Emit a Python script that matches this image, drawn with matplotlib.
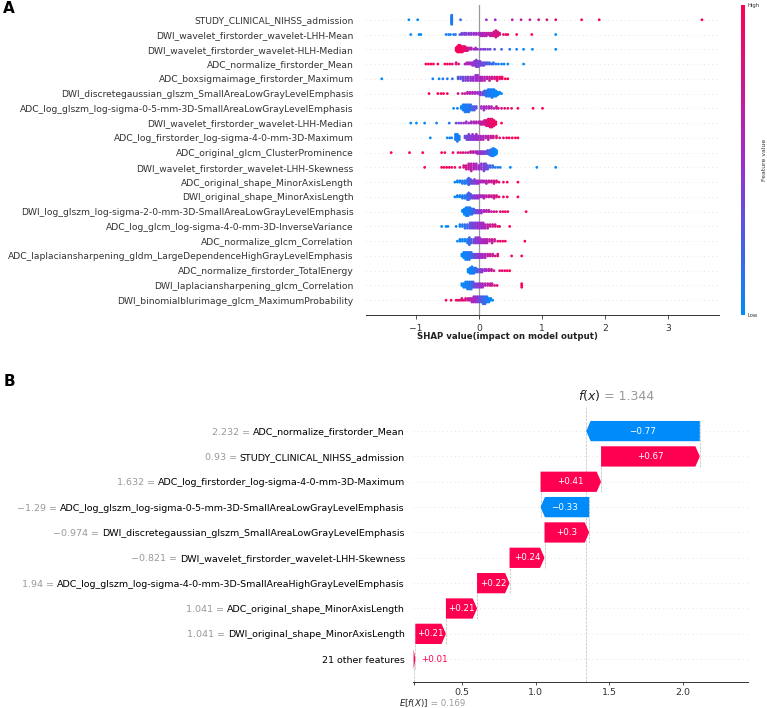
import numpy as np
import matplotlib
matplotlib.use("Agg")
import matplotlib.pyplot as plt
from matplotlib.colors import LinearSegmentedColormap, Normalize
from matplotlib.patches import FancyArrow
import matplotlib.transforms as mtrans
import matplotlib.cm as cm

# ---------------- panel A: SHAP summary (top -> bottom) ----------------
summary_features = [
    "STUDY_CLINICAL_NIHSS_admission",
    "DWI_wavelet_firstorder_wavelet-LHH-Mean",
    "DWI_wavelet_firstorder_wavelet-HLH-Median",
    "ADC_normalize_firstorder_Mean",
    "ADC_boxsigmaimage_firstorder_Maximum",
    "DWI_discretegaussian_glszm_SmallAreaLowGrayLevelEmphasis",
    "ADC_log_glszm_log-sigma-0-5-mm-3D-SmallAreaLowGrayLevelEmphasis",
    "DWI_wavelet_firstorder_wavelet-LHH-Median",
    "ADC_log_firstorder_log-sigma-4-0-mm-3D-Maximum",
    "ADC_original_glcm_ClusterProminence",
    "DWI_wavelet_firstorder_wavelet-LHH-Skewness",
    "ADC_original_shape_MinorAxisLength",
    "DWI_original_shape_MinorAxisLength",
    "DWI_log_glszm_log-sigma-2-0-mm-3D-SmallAreaLowGrayLevelEmphasis",
    "ADC_log_glcm_log-sigma-4-0-mm-3D-InverseVariance",
    "ADC_normalize_glcm_Correlation",
    "ADC_laplaciansharpening_gldm_LargeDependenceHighGrayLevelEmphasis",
    "ADC_normalize_firstorder_TotalEnergy",
    "DWI_laplaciansharpening_glcm_Correlation",
    "DWI_binomialblurimage_glcm_MaximumProbability",
]

# each dot column: (shap value, feature value 0=low..1=high, number of dots)
summary_points = [
    [(-1.11, 0.0, 1), (-0.97, 0.0, 1), (-0.43, 0.08, 13), (-0.29, 0.15, 1), (0.12, 0.45, 1), (0.26, 0.5, 1),
     (0.53, 0.62, 1), (0.67, 0.66, 1), (0.81, 0.7, 1), (0.95, 0.75, 1), (1.08, 0.8, 1), (1.22, 0.86, 1),
     (1.63, 0.95, 1), (1.91, 0.97, 1), (3.54, 1.0, 1)],
    [(-1.08, 0.0, 1), (-0.95, 0.0, 1), (-0.92, 0.02, 1), (-0.52, 0.05, 1), (-0.48, 0.05, 1), (-0.45, 0.08, 1),
     (-0.4, 0.1, 1), (-0.37, 0.12, 1), (-0.3, 0.3, 1), (-0.27, 0.35, 2), (-0.23, 0.4, 2), (-0.2, 0.4, 2),
     (-0.16, 0.42, 2), (-0.12, 0.45, 2), (-0.08, 0.48, 2), (-0.04, 0.5, 2), (0.0, 0.55, 2), (0.03, 0.55, 3),
     (0.06, 0.6, 3), (0.09, 0.6, 3), (0.12, 0.62, 3), (0.15, 0.66, 2), (0.18, 0.7, 3), (0.21, 0.72, 3),
     (0.24, 0.75, 4), (0.27, 0.78, 6), (0.3, 0.8, 4), (0.33, 0.85, 2), (0.39, 0.9, 1), (0.43, 0.92, 1),
     (0.46, 0.95, 1), (0.6, 0.97, 1), (0.84, 1.0, 1), (1.22, 0.0, 1)],
    [(-0.36, 0.95, 3), (-0.34, 1.0, 5), (-0.32, 0.95, 6), (-0.3, 1.0, 6), (-0.28, 0.95, 5), (-0.26, 0.9, 5),
     (-0.24, 0.92, 4), (-0.22, 0.88, 4), (-0.2, 0.85, 3), (-0.18, 0.8, 3), (-0.15, 0.7, 2), (-0.12, 0.6, 2),
     (-0.08, 0.55, 1), (-0.05, 0.5, 2), (-0.02, 0.45, 1), (0.03, 0.45, 1), (0.07, 0.4, 1), (0.1, 0.4, 1),
     (0.14, 0.35, 1), (0.18, 0.35, 1), (0.25, 0.3, 1), (0.36, 0.2, 1), (0.49, 0.1, 1), (0.6, 0.05, 1),
     (0.71, 0.0, 1), (0.85, 0.0, 1), (1.22, 0.0, 1)],
    [(-0.84, 1.0, 1), (-0.8, 1.0, 1), (-0.76, 0.95, 1), (-0.72, 1.0, 1), (-0.65, 0.95, 1), (-0.54, 0.95, 1),
     (-0.5, 0.9, 1), (-0.46, 0.92, 1), (-0.42, 0.9, 1), (-0.36, 0.85, 2), (-0.32, 0.8, 1), (-0.22, 0.6, 1),
     (-0.19, 0.62, 2), (-0.16, 0.55, 2), (-0.13, 0.55, 2), (-0.1, 0.5, 3), (-0.07, 0.45, 4), (-0.04, 0.42, 6),
     (-0.01, 0.4, 5), (0.02, 0.38, 4), (0.05, 0.35, 3), (0.08, 0.3, 3), (0.11, 0.3, 2), (0.14, 0.25, 2),
     (0.17, 0.2, 2), (0.2, 0.2, 1), (0.23, 0.15, 2), (0.27, 0.1, 1), (0.31, 0.1, 1), (0.36, 0.05, 1),
     (0.4, 0.05, 1), (0.46, 0.02, 1), (0.71, 0.0, 1)],
    [(-1.54, 0.0, 1), (-0.73, 0.05, 1), (-0.63, 0.05, 1), (-0.57, 0.1, 1), (-0.5, 0.1, 1), (-0.42, 0.15, 1),
     (-0.33, 0.25, 2), (-0.29, 0.3, 2), (-0.25, 0.35, 3), (-0.21, 0.4, 3), (-0.17, 0.42, 3), (-0.13, 0.45, 3),
     (-0.09, 0.5, 3), (-0.05, 0.5, 4), (-0.02, 0.52, 4), (0.02, 0.55, 3), (0.05, 0.6, 3), (0.09, 0.62, 3),
     (0.13, 0.65, 2), (0.17, 0.7, 3), (0.21, 0.75, 2), (0.25, 0.8, 2), (0.29, 0.85, 3), (0.33, 0.9, 2),
     (0.37, 0.95, 2), (0.42, 1.0, 1), (0.46, 1.0, 1)],
    [(-0.79, 1.0, 1), (-0.65, 1.0, 1), (-0.6, 0.95, 1), (-0.56, 1.0, 1), (-0.5, 0.95, 1), (-0.33, 0.85, 1),
     (-0.26, 0.75, 1), (-0.22, 0.7, 1), (-0.18, 0.65, 2), (-0.14, 0.6, 2), (-0.1, 0.6, 2), (-0.06, 0.55, 2),
     (-0.02, 0.5, 2), (0.02, 0.45, 3), (0.06, 0.35, 3), (0.09, 0.2, 4), (0.12, 0.15, 5), (0.15, 0.1, 6),
     (0.18, 0.08, 6), (0.21, 0.05, 7), (0.24, 0.05, 6), (0.27, 0.03, 5), (0.3, 0.02, 3), (0.33, 0.0, 2),
     (0.36, 0.0, 1)],
    [(-0.4, 0.0, 1), (-0.34, 0.05, 1), (-0.28, 0.05, 2), (-0.25, 0.05, 4), (-0.22, 0.08, 5), (-0.19, 0.1, 5),
     (-0.16, 0.1, 5), (-0.13, 0.15, 4), (-0.1, 0.2, 3), (-0.07, 0.25, 3), (-0.04, 0.3, 2), (0.04, 0.5, 2),
     (0.08, 0.55, 3), (0.12, 0.55, 2), (0.16, 0.6, 2), (0.2, 0.6, 2), (0.24, 0.65, 1), (0.28, 0.7, 2),
     (0.31, 0.75, 1), (0.36, 0.8, 1), (0.41, 0.85, 1), (0.46, 0.9, 1), (0.52, 0.92, 1), (0.62, 0.95, 1),
     (0.86, 1.0, 1), (1.01, 1.0, 1)],
    [(-1.08, 0.0, 1), (-0.99, 0.0, 1), (-0.86, 0.02, 1), (-0.67, 0.05, 1), (-0.47, 0.1, 1), (-0.36, 0.35, 1),
     (-0.32, 0.4, 1), (-0.28, 0.45, 1), (-0.24, 0.45, 1), (-0.2, 0.5, 2), (-0.16, 0.5, 1), (-0.12, 0.55, 2),
     (-0.08, 0.55, 2), (-0.04, 0.6, 2), (0.0, 0.62, 2), (0.03, 0.65, 3), (0.06, 0.7, 3), (0.09, 0.75, 4),
     (0.12, 0.8, 5), (0.15, 0.85, 6), (0.18, 0.88, 7), (0.21, 0.9, 7), (0.24, 0.92, 5), (0.27, 0.95, 3),
     (0.36, 1.0, 1)],
    [(-0.77, 0.0, 1), (-0.5, 0.0, 1), (-0.46, 0.05, 1), (-0.43, 0.05, 1), (-0.37, 0.05, 4), (-0.34, 0.08, 5),
     (-0.31, 0.1, 3), (-0.22, 0.3, 2), (-0.19, 0.35, 3), (-0.16, 0.4, 4), (-0.13, 0.42, 3), (-0.1, 0.45, 4),
     (-0.07, 0.48, 3), (-0.04, 0.5, 4), (-0.01, 0.52, 3), (0.03, 0.55, 3), (0.07, 0.6, 3), (0.11, 0.62, 2),
     (0.15, 0.65, 3), (0.19, 0.7, 2), (0.23, 0.75, 2), (0.28, 0.8, 2), (0.33, 0.85, 1), (0.39, 0.9, 1),
     (0.44, 0.92, 1), (0.48, 0.95, 1), (0.53, 0.97, 1), (0.58, 1.0, 1), (0.62, 1.0, 1)],
    [(-1.39, 1.0, 1), (-1.1, 1.0, 1), (-0.89, 1.0, 1), (-0.59, 0.95, 1), (-0.54, 0.95, 1), (-0.41, 0.9, 1),
     (-0.33, 0.85, 1), (-0.29, 0.85, 1), (-0.25, 0.8, 1), (-0.21, 0.75, 1), (-0.17, 0.72, 1), (-0.13, 0.7, 2),
     (-0.09, 0.65, 2), (-0.05, 0.6, 2), (-0.02, 0.55, 3), (0.02, 0.5, 3), (0.05, 0.45, 3), (0.08, 0.4, 3),
     (0.11, 0.35, 3), (0.14, 0.3, 4), (0.17, 0.2, 5), (0.2, 0.1, 7), (0.23, 0.05, 8), (0.26, 0.02, 6),
     (0.28, 0.0, 4)],
    [(-0.86, 1.0, 1), (-0.59, 1.0, 1), (-0.55, 0.95, 1), (-0.51, 1.0, 1), (-0.47, 0.95, 1), (-0.43, 0.9, 1),
     (-0.38, 0.9, 1), (-0.3, 0.85, 1), (-0.24, 0.8, 2), (-0.2, 0.75, 3), (-0.16, 0.7, 4), (-0.12, 0.65, 5),
     (-0.08, 0.6, 4), (-0.04, 0.55, 4), (0.0, 0.5, 3), (0.04, 0.45, 4), (0.08, 0.4, 5), (0.11, 0.35, 4),
     (0.14, 0.3, 3), (0.18, 0.25, 2), (0.22, 0.15, 2), (0.26, 0.1, 1), (0.3, 0.08, 1), (0.34, 0.05, 1),
     (0.5, 0.02, 1), (0.92, 0.0, 1), (1.22, 0.0, 1)],
    [(-0.38, 0.0, 1), (-0.34, 0.05, 2), (-0.3, 0.05, 2), (-0.26, 0.1, 3), (-0.22, 0.1, 3), (-0.18, 0.15, 4),
     (-0.16, 0.2, 6), (-0.13, 0.3, 4), (-0.1, 0.35, 3), (-0.07, 0.4, 4), (-0.04, 0.45, 3), (-0.01, 0.5, 3),
     (0.02, 0.55, 2), (0.05, 0.55, 2), (0.08, 0.6, 2), (0.12, 0.65, 3), (0.16, 0.7, 2), (0.2, 0.72, 2),
     (0.24, 0.75, 3), (0.28, 0.8, 2), (0.32, 0.85, 1), (0.39, 0.9, 1), (0.45, 0.95, 1), (0.62, 1.0, 1)],
    [(-0.38, 0.0, 1), (-0.34, 0.05, 2), (-0.3, 0.05, 2), (-0.26, 0.1, 3), (-0.22, 0.1, 3), (-0.18, 0.15, 5),
     (-0.16, 0.2, 6), (-0.13, 0.3, 4), (-0.1, 0.35, 3), (-0.07, 0.4, 3), (-0.04, 0.45, 3), (-0.01, 0.5, 3),
     (0.02, 0.55, 2), (0.05, 0.55, 2), (0.08, 0.6, 3), (0.12, 0.65, 2), (0.16, 0.7, 2), (0.2, 0.72, 2),
     (0.24, 0.75, 3), (0.28, 0.8, 2), (0.32, 0.85, 1), (0.39, 0.9, 1), (0.45, 0.95, 1), (0.62, 1.0, 1)],
    [(-0.26, 0.0, 2), (-0.23, 0.02, 5), (-0.2, 0.05, 7), (-0.17, 0.05, 7), (-0.14, 0.1, 6), (-0.11, 0.15, 5),
     (-0.08, 0.2, 4), (-0.05, 0.3, 3), (-0.02, 0.35, 3), (0.01, 0.45, 3), (0.04, 0.5, 3), (0.08, 0.55, 2),
     (0.12, 0.6, 2), (0.16, 0.65, 2), (0.2, 0.7, 1), (0.24, 0.75, 1), (0.28, 0.8, 1), (0.34, 0.85, 1),
     (0.38, 0.9, 1), (0.42, 0.92, 1), (0.46, 0.95, 1), (0.75, 1.0, 1)],
    [(-0.59, 0.0, 1), (-0.52, 0.0, 1), (-0.49, 0.02, 1), (-0.36, 0.05, 1), (-0.3, 0.05, 2), (-0.26, 0.1, 2),
     (-0.22, 0.15, 3), (-0.18, 0.2, 3), (-0.14, 0.3, 4), (-0.11, 0.35, 4), (-0.08, 0.4, 4), (-0.05, 0.42, 4),
     (-0.02, 0.45, 4), (0.01, 0.5, 4), (0.04, 0.5, 4), (0.07, 0.55, 4), (0.1, 0.6, 3), (0.14, 0.65, 3),
     (0.18, 0.7, 2), (0.22, 0.75, 2), (0.26, 0.8, 2), (0.3, 0.85, 1), (0.33, 0.9, 1), (0.49, 1.0, 1)],
    [(-0.34, 0.0, 1), (-0.3, 0.02, 2), (-0.26, 0.05, 2), (-0.22, 0.05, 2), (-0.18, 0.1, 3), (-0.15, 0.15, 5),
     (-0.12, 0.25, 3), (-0.08, 0.35, 3), (-0.05, 0.4, 4), (-0.02, 0.45, 4), (0.01, 0.5, 4), (0.04, 0.52, 3),
     (0.07, 0.55, 3), (0.1, 0.6, 3), (0.13, 0.62, 3), (0.17, 0.65, 2), (0.21, 0.7, 3), (0.25, 0.75, 2),
     (0.3, 0.85, 1), (0.34, 0.9, 1), (0.38, 0.92, 1), (0.42, 0.95, 1), (0.73, 1.0, 1)],
    [(-0.27, 0.0, 2), (-0.24, 0.02, 4), (-0.21, 0.05, 5), (-0.18, 0.08, 5), (-0.15, 0.1, 5), (-0.12, 0.15, 4),
     (-0.09, 0.25, 3), (-0.06, 0.35, 3), (-0.03, 0.4, 3), (0.0, 0.45, 3), (0.03, 0.5, 3), (0.06, 0.55, 3),
     (0.1, 0.6, 3), (0.14, 0.65, 2), (0.18, 0.7, 2), (0.22, 0.75, 2), (0.26, 0.8, 1), (0.3, 0.85, 2),
     (0.52, 0.95, 1), (0.68, 1.0, 1)],
    [(-0.17, 0.0, 3), (-0.14, 0.02, 5), (-0.11, 0.05, 6), (-0.08, 0.1, 5), (-0.05, 0.15, 4), (-0.02, 0.25, 3),
     (0.02, 0.35, 3), (0.05, 0.45, 3), (0.09, 0.5, 2), (0.12, 0.55, 2), (0.16, 0.65, 2), (0.2, 0.7, 2),
     (0.24, 0.75, 1), (0.33, 0.85, 1), (0.37, 0.9, 1), (0.41, 0.92, 1), (0.45, 0.95, 1), (0.49, 1.0, 1)],
    [(-0.27, 0.0, 2), (-0.24, 0.02, 3), (-0.21, 0.05, 4), (-0.18, 0.08, 5), (-0.15, 0.1, 5), (-0.12, 0.15, 5),
     (-0.09, 0.25, 4), (-0.06, 0.35, 3), (-0.03, 0.4, 3), (0.0, 0.45, 3), (0.03, 0.5, 3), (0.06, 0.55, 3),
     (0.1, 0.6, 2), (0.14, 0.65, 2), (0.18, 0.7, 2), (0.21, 0.75, 2), (0.25, 0.8, 1), (0.29, 0.85, 1),
     (0.68, 1.0, 3)],
    [(-0.52, 1.0, 1), (-0.44, 1.0, 1), (-0.36, 0.95, 1), (-0.33, 0.9, 1), (-0.3, 0.9, 1), (-0.27, 0.85, 2),
     (-0.24, 0.8, 1), (-0.21, 0.8, 2), (-0.17, 0.7, 2), (-0.14, 0.65, 2), (-0.11, 0.6, 3), (-0.08, 0.55, 4),
     (-0.05, 0.5, 4), (-0.02, 0.45, 4), (0.01, 0.35, 4), (0.04, 0.25, 4), (0.07, 0.2, 5), (0.1, 0.15, 5),
     (0.13, 0.1, 4), (0.16, 0.05, 3), (0.19, 0.02, 2), (0.22, 0.0, 1)],
]

# ---------------- panel B: waterfall (top -> bottom) ----------------
wf_features = [
    "ADC_normalize_firstorder_Mean",
    "STUDY_CLINICAL_NIHSS_admission",
    "ADC_log_firstorder_log-sigma-4-0-mm-3D-Maximum",
    "ADC_log_glszm_log-sigma-0-5-mm-3D-SmallAreaLowGrayLevelEmphasis",
    "DWI_discretegaussian_glszm_SmallAreaLowGrayLevelEmphasis",
    "DWI_wavelet_firstorder_wavelet-LHH-Skewness",
    "ADC_log_glszm_log-sigma-4-0-mm-3D-SmallAreaHighGrayLevelEmphasis",
    "ADC_original_shape_MinorAxisLength",
    "DWI_original_shape_MinorAxisLength",
    "21 other features",
]
wf_feature_values = ["2.232", "0.93", "1.632", "\u22121.29", "\u22120.974", "\u22120.821", "1.94",
                     "1.041", "1.041", ""]
wf_shap = [-0.773, 0.672, 0.412, -0.331, 0.304, 0.238, 0.221, 0.212, 0.208, 0.012]
base_value = 0.169
fx_value = 1.344

RED = "#ff0051"
BLUE = "#008bfb"
shap_cmap = LinearSegmentedColormap.from_list("shap_rb", [BLUE, "#9e2dcc", RED])

W, H = 767, 708


def swarm_offsets(vals, cols, row_height=0.4, nbins=100):
    # shap-like stacking of dots that fall into the same bin
    n = len(vals)
    quant = np.round(nbins * (vals - vals.min()) / (vals.max() - vals.min() + 1e-8))
    inds = np.lexsort((cols, quant))
    layer = 0
    last_bin = -1
    ys = np.zeros(n)
    for ind in inds:
        if quant[ind] != last_bin:
            layer = 0
        ys[ind] = np.ceil(layer / 2) * ((layer % 2) * 2 - 1)
        layer += 1
        last_bin = quant[ind]
    ys *= 0.9 * (row_height / np.max(ys + 1))
    return ys


def fmt_shap(v):
    s = "%+0.2f" % v
    s = s.rstrip("0").rstrip(".") if "." in s else s
    return s.replace("-", "\u2212")


fig = plt.figure(figsize=(W / 100, H / 100), dpi=100)

# ---------------- A ----------------
axA = fig.add_axes([366 / W, 1 - 315 / H, (719 - 366) / W, 310 / H])
n = len(summary_features)
for i, pts in enumerate(summary_points):
    y = n - 1 - i
    vals = np.repeat([p[0] for p in pts], [p[2] for p in pts]).astype(float)
    cols = np.repeat([p[1] for p in pts], [p[2] for p in pts]).astype(float)
    offs = swarm_offsets(vals, cols)
    axA.axhline(y, color="#cccccc", lw=0.5, dashes=(1, 5), zorder=-1)
    axA.scatter(vals, y + offs, c=cols, cmap=shap_cmap, vmin=0, vmax=1, s=4, linewidths=0, zorder=3)

axA.axvline(0, color="#999999", lw=0.9, zorder=-1)
axA.set_xlim(-1.79, 3.81)
axA.set_ylim(-1, n)
axA.set_yticks(range(n))
axA.set_yticklabels(summary_features[::-1], fontsize=6.6, color="#333333")
axA.tick_params(axis="y", length=0, pad=9)
axA.set_xticks([-1, 0, 1, 2, 3])
axA.tick_params(axis="x", labelsize=6.6, colors="#333333", length=3, width=0.6)
for s in ["top", "right", "left"]:
    axA.spines[s].set_visible(False)
axA.spines["bottom"].set_color("#333333")
axA.spines["bottom"].set_linewidth(0.7)
axA.set_xlabel("SHAP value(impact on model output)", fontsize=6.2, fontweight="bold", color="#222222")
axA.xaxis.set_label_coords(0.40, -0.055)

# colour bar
cax = fig.add_axes([741 / W, 1 - 315 / H, 4 / W, 310 / H])
cb = fig.colorbar(cm.ScalarMappable(norm=Normalize(0, 1), cmap=shap_cmap), cax=cax, ticks=[0, 1])
cb.set_ticklabels(["Low", "High"])
cb.ax.tick_params(labelsize=3.8, length=0, pad=1.5, colors="#333333")
cb.outline.set_visible(False)
cb.set_label("Feature value", fontsize=4.4, labelpad=2, color="#333333")

# ---------------- B ----------------
axB = fig.add_axes([413 / W, 1 - 682 / H, (748 - 413) / W, 275 / H])
m = len(wf_features)
axB.set_xlim(0.165, 2.445)
axB.set_ylim(-0.9, m - 0.05)

for i in range(m):
    axB.axhline(i, color="#cccccc", lw=0.5, dashes=(1, 5), zorder=-1)

bar_w = 0.8
hl = 0.03
loc = fx_value
for i, v in enumerate(wf_shap):
    y = m - 1 - i
    loc -= v
    dist = abs(v)
    head = min(dist, hl)
    shaft = max(dist - hl, 1e-6)
    if v >= 0:
        arr = FancyArrow(loc, y, shaft, 0, width=bar_w, head_width=bar_w, head_length=head,
                         length_includes_head=False, color=RED, lw=0)
        left = loc
    else:
        arr = FancyArrow(loc, y, -shaft, 0, width=bar_w, head_width=bar_w, head_length=head,
                         length_includes_head=False, color=BLUE, lw=0)
        left = loc - dist
    axB.add_patch(arr)
    if i < m - 1:
        axB.plot([loc, loc], [y - 1 - 0.4, y + 0.4], color="#bbbbbb", ls="--", lw=0.5, zorder=-1)
    if dist > 0.1:
        axB.text(left + dist / 2, y, fmt_shap(v), ha="center", va="center", color="white", fontsize=6.3)
    else:
        axB.annotate(fmt_shap(v), xy=(left + dist, y), xytext=(4, 0), textcoords="offset points",
                     ha="left", va="center", color=RED if v >= 0 else BLUE, fontsize=6.3)

axB.axvline(fx_value, 0, 1, color="#bbbbbb", ls="--", lw=0.5, zorder=-1)
axB.axvline(base_value, 0, 1 / m, color="#bbbbbb", ls="--", lw=0.5, zorder=-1)

axB.set_yticks(range(m))
axB.set_yticklabels(wf_features[::-1], fontsize=6.8, color="black")
axB.tick_params(axis="y", length=0, pad=5.8)
axB.set_xticks([base_value, 0.5, 1.0, 1.5, 2.0])
axB.set_xticklabels(["", "0.5", "1.0", "1.5", "2.0"])
axB.tick_params(axis="x", labelsize=6.8, colors="#333333", length=2, width=0.6, pad=2)
for s in ["top", "right", "left"]:
    axB.spines[s].set_visible(False)
axB.spines["bottom"].set_color("#333333")
axB.spines["bottom"].set_linewidth(0.7)

# f(x) and E[f(X)] labels
fx_txt = axB.annotate("$f(x)$", xy=(fx_value, 1), xycoords=("data", "axes fraction"), xytext=(2, 5),
                      textcoords="offset points", ha="center", va="baseline", fontsize=9, color="#222222")
axB.annotate(" = %.3f" % fx_value, xy=(1, 1), xycoords=(fx_txt, "axes fraction"), xytext=(0, 5),
             textcoords="offset points", ha="left", va="baseline", fontsize=9, color="#999999")
ex_txt = axB.annotate("$E[f(X)]$", xy=(base_value, 0), xycoords=("data", "axes fraction"), xytext=(0, -17),
                      textcoords="offset points", ha="center", va="baseline", fontsize=6.2, color="#222222")
axB.annotate(" = %.3f" % base_value, xy=(1, 0), xycoords=(ex_txt, "axes fraction"), xytext=(0, -17),
             textcoords="offset points", ha="left", va="baseline", fontsize=6.2, color="#999999")

# gray feature values in front of the names
fig.canvas.draw()
blend = mtrans.blended_transform_factory(fig.transFigure, axB.transData)
for k, lbl in enumerate(axB.get_yticklabels()):
    idx = m - 1 - k
    if wf_feature_values[idx] == "":
        continue
    bb = lbl.get_window_extent()
    fig.text(bb.x0 / W, k, wf_feature_values[idx] + " = ", transform=blend, ha="right",
             va="center_baseline", fontsize=6.8, color="#999999")

# panel letters
fig.text(3 / W, 1 - 8.5 / H, "A", fontsize=11, fontweight="bold", va="center", ha="left")
fig.text(4 / W, 1 - 382 / H, "B", fontsize=11, fontweight="bold", va="center", ha="left")

fig.savefig("out.png", dpi=100)
